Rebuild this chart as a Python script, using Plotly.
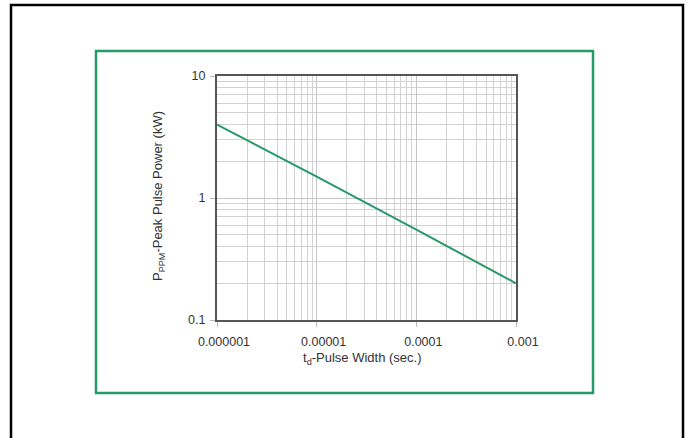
import plotly.graph_objects as go

# Data
pulse_width = [1e-6, 1e-5, 1e-4, 1e-3]
peak_power = [4.0, 1.5, 0.55, 0.2]

x_tickvals = [1e-6, 1e-5, 1e-4, 1e-3]
x_ticktext = ["0.000001", "0.00001", "0.0001", "0.001"]
y_tickvals = [0.1, 1, 10]
y_ticktext = ["0.1", "1", "10"]

W, H = 688, 438
L, R, T, B = 217, 516, 76, 320  # plot area in pixels
PW, PH = R - L, B - T


def px(x):
    return (x - L) / PW


def py(y):
    return (B - y) / PH


GREEN = "#27996b"
FONT = "Liberation Sans, Arial, sans-serif"
TXT = "#333333"

fig = go.Figure()
fig.add_trace(go.Scatter(
    x=pulse_width, y=peak_power, mode="lines",
    line=dict(color=GREEN, width=2), showlegend=False, hoverinfo="skip"))

axis_common = dict(
    type="log",
    showline=True, linecolor="#555555", linewidth=2, mirror=True,
    ticks="outside", ticklen=5, tickcolor="#bbbbbb", tickwidth=1,
    showgrid=True, gridcolor="#c6c6c6", gridwidth=1,
    zeroline=False,
    tickfont=dict(family=FONT, size=12.5, color=TXT),
    minor=dict(showgrid=True, gridcolor="#d2d2d2", gridwidth=1, dtick="D1",
               ticks=""),
)

fig.update_layout(
    width=W, height=H,
    margin=dict(l=L, r=W - R, t=T, b=H - B, pad=0),
    paper_bgcolor="white", plot_bgcolor="white",
    font=dict(family=FONT, size=12.5, color=TXT),
    xaxis=dict(axis_common, range=[-6, -3], tickvals=x_tickvals,
               ticktext=x_ticktext, ticklabelstandoff=4, ticklabelshift=7),
    yaxis=dict(axis_common, range=[-1, 1], tickvals=y_tickvals,
               ticktext=y_ticktext, ticklabelstandoff=2),
    shapes=[
        # outer black frame
        dict(type="rect", xref="paper", yref="paper",
             x0=px(11), x1=px(683), y0=py(445), y1=py(5),
             line=dict(color="black", width=2.5), layer="below"),
        # green frame
        dict(type="rect", xref="paper", yref="paper",
             x0=px(96), x1=px(593), y0=py(393), y1=py(51),
             line=dict(color=GREEN, width=2.5), layer="below"),
    ],
    annotations=[
        dict(text="t<sub>d</sub>-Pulse Width (sec.)", xref="paper", yref="paper",
             x=px(362), y=py(358), xanchor="center", yanchor="middle",
             showarrow=False, font=dict(family=FONT, size=13, color=TXT)),
        dict(text="P<sub>PPM</sub>-Peak Pulse Power (kW)", xref="paper", yref="paper",
             x=px(158), y=py(196), xanchor="center", yanchor="middle",
             textangle=-90, showarrow=False,
             font=dict(family=FONT, size=13, color=TXT)),
    ],
)

fig.write_html("out.html",
               config={"displayModeBar": False},
               post_script="document.body.style.margin='0';document.body.style.overflow='hidden';")
